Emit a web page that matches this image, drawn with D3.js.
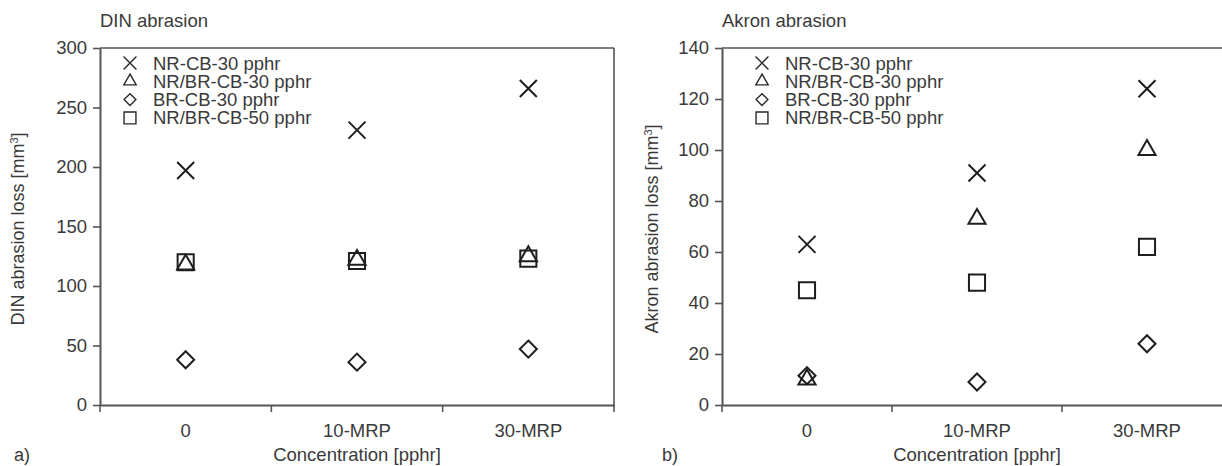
<!DOCTYPE html>
<html>
<head>
  <meta charset="utf-8">
  <title>DIN and Akron abrasion</title>
  <script src="https://d3js.org/d3.v7.min.js"></script>
  <style>
    body { margin: 0; background: #fff; }
    svg text { font-family: "Liberation Sans", Arial, sans-serif; fill: #3a3a3a; }
  </style>
</head>
<body>
  <div id="chart"></div>
  <script>
    const categories = ["0", "10-MRP", "30-MRP"];
    const seriesNames = ["NR-CB-30 pphr", "NR/BR-CB-30 pphr", "BR-CB-30 pphr", "NR/BR-CB-50 pphr"];
    const seriesSymbols = [d3.symbolTimes, d3.symbolTriangle2, d3.symbolDiamond2, d3.symbolSquare2];

    // DIN abrasion loss [mm3]
    const dinNR30 = [197, 231, 266];
    const dinNRBR30 = [118, 122, 125];
    const dinBR30 = [38, 36, 47];
    const dinNRBR50 = [120, 121, 123];
    const dinTicks = [0, 50, 100, 150, 200, 250, 300];

    // Akron abrasion loss [mm3]
    const akronNR30 = [63, 91, 124];
    const akronNRBR30 = [10, 73, 100];
    const akronBR30 = [11.5, 9, 24];
    const akronNRBR50 = [45, 48, 62];
    const akronTicks = [0, 20, 40, 60, 80, 100, 120, 140];

    const width = 1222, height = 466;
    const svg = d3.select("#chart").append("svg").attr("width", width).attr("height", height);

    const bigSizes = [190, 210, 185, 330];
    const smallSizes = [110, 110, 90, 180];

    function drawPanel(opt) {
      const g = svg.append("g");
      const x = d3.scaleBand().domain(categories).range([opt.left, opt.right]);
      const y = d3.scaleLinear().domain([0, opt.max]).range([405, 48]);

      // frame: top and right lines
      g.append("line").attr("x1", opt.left).attr("x2", opt.right).attr("y1", y(opt.max)).attr("y2", y(opt.max))
        .attr("stroke", "#555").attr("stroke-width", 1.6);
      g.append("line").attr("x1", opt.right).attr("x2", opt.right).attr("y1", y(opt.max)).attr("y2", y(0))
        .attr("stroke", "#555").attr("stroke-width", 1.6);

      // y axis
      const yAxis = g.append("g").attr("transform", `translate(${opt.left},0)`)
        .call(d3.axisLeft(y).tickValues(opt.ticks).tickSize(7).tickPadding(6).tickSizeOuter(0));
      yAxis.select(".domain").attr("stroke", "#555").attr("stroke-width", 2);
      yAxis.selectAll(".tick line").attr("stroke", "#555").attr("stroke-width", 1.6);
      yAxis.selectAll(".tick text").style("font-size", "18.5px").attr("fill", "#3a3a3a");

      // x axis: labels at centres, ticks at band edges
      const xAxis = g.append("g").attr("transform", `translate(0,${y(0)})`)
        .call(d3.axisBottom(x).tickSize(0).tickPadding(19).tickSizeOuter(0));
      xAxis.select(".domain").attr("stroke", "#555").attr("stroke-width", 2);
      xAxis.selectAll(".tick text").style("font-size", "18.5px").attr("fill", "#3a3a3a");
      const edges = categories.map(c => x(c)).concat([opt.right]);
      g.selectAll(".edge").data(edges).enter().append("line")
        .attr("x1", d => d).attr("x2", d => d).attr("y1", y(0)).attr("y2", y(0) + 7)
        .attr("stroke", "#555").attr("stroke-width", 1.6);

      // titles
      g.append("text").attr("x", opt.left).attr("y", 27).style("font-size", "18.5px").text(opt.title);
      const yl = g.append("text")
        .attr("transform", `translate(${opt.ylabelX},229) rotate(-90)`)
        .attr("text-anchor", "middle").style("font-size", "18px");
      yl.append("tspan").text(opt.ylabel + " [mm");
      yl.append("tspan").attr("dy", -6).style("font-size", "11px").text("3");
      yl.append("tspan").attr("dy", 6).text("]");
      g.append("text").attr("x", x("10-MRP") + x.bandwidth() / 2).attr("y", 461)
        .attr("text-anchor", "middle").style("font-size", "18.5px").text("Concentration [pphr]");
      g.append("text").attr("x", opt.letterX).attr("y", 461).style("font-size", "18px").text(opt.letter);

      // markers
      opt.series.forEach((vals, i) => {
        g.selectAll(null).data(vals).enter().append("path")
          .attr("d", d3.symbol().type(seriesSymbols[i]).size(bigSizes[i]))
          .attr("transform", (d, j) => `translate(${x(categories[j]) + x.bandwidth() / 2},${y(d)})`)
          .attr("fill", "none").attr("stroke", "#1e1e1e").attr("stroke-width", 2);
      });

      // legend
      const leg = g.append("g");
      seriesNames.forEach((name, i) => {
        const cy = 63 + i * 18.3;
        leg.append("path")
          .attr("d", d3.symbol().type(seriesSymbols[i]).size(smallSizes[i]))
          .attr("transform", `translate(${opt.legendX},${cy})`)
          .attr("fill", "none").attr("stroke", "#2a2a2a").attr("stroke-width", 1.4);
        leg.append("text").attr("x", opt.legendX + 23).attr("y", cy + 6.5)
          .style("font-size", "18.5px").text(name);
      });
    }

    drawPanel({
      left: 100, right: 614, max: 300, ticks: dinTicks,
      series: [dinNR30, dinNRBR30, dinBR30, dinNRBR50],
      title: "DIN abrasion", ylabel: "DIN abrasion loss", ylabelX: 24,
      letter: "a)", letterX: 14, legendX: 130
    });

    drawPanel({
      left: 722, right: 1232, max: 140, ticks: akronTicks,
      series: [akronNR30, akronNRBR30, akronBR30, akronNRBR50],
      title: "Akron abrasion", ylabel: "Akron abrasion loss", ylabelX: 658,
      letter: "b)", letterX: 662, legendX: 762
    });
  </script>
</body>
</html>
